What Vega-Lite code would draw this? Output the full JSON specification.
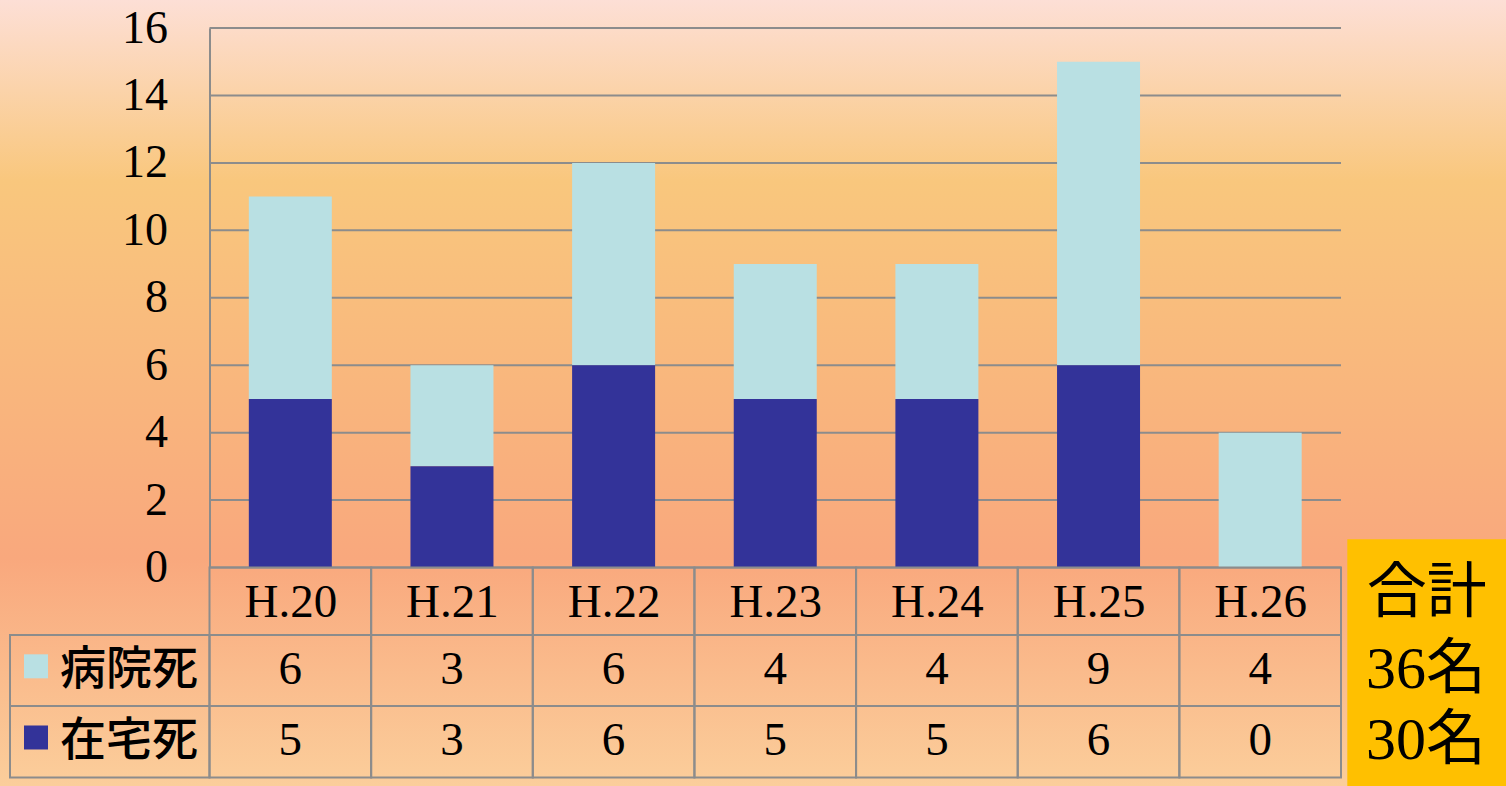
{
  "$schema": "https://vega.github.io/schema/vega-lite/v6.json",
  "width": 1131.5,
  "height": 539.5,
  "autosize": {"type": "none"},
  "padding": {"left": 209.5, "top": 28, "right": 165, "bottom": 218.5},
  "background": "#F9BE85",
  "config": {"view": {"stroke": null}},
  "datasets": {
    "deaths": [
      {"year": 20, "type": "病院死", "count": 6},
      {"year": 20, "type": "在宅死", "count": 5},
      {"year": 21, "type": "病院死", "count": 3},
      {"year": 21, "type": "在宅死", "count": 3},
      {"year": 22, "type": "病院死", "count": 6},
      {"year": 22, "type": "在宅死", "count": 6},
      {"year": 23, "type": "病院死", "count": 4},
      {"year": 23, "type": "在宅死", "count": 5},
      {"year": 24, "type": "病院死", "count": 4},
      {"year": 24, "type": "在宅死", "count": 5},
      {"year": 25, "type": "病院死", "count": 9},
      {"year": 25, "type": "在宅死", "count": 6},
      {"year": 26, "type": "病院死", "count": 4},
      {"year": 26, "type": "在宅死", "count": 0}
    ],
    "ticks": [
      {"tick": 0}, {"tick": 2}, {"tick": 4}, {"tick": 6}, {"tick": 8},
      {"tick": 10}, {"tick": 12}, {"tick": 14}, {"tick": 16}
    ]
  },
  "data": {"name": "deaths"},
  "layer": [
    {
      "mark": {"type": "bar", "width": 83, "opacity": 0},
      "encoding": {
        "x": {
          "field": "year", "type": "quantitative",
          "scale": {"domain": [19.5, 26.5], "nice": false, "zero": false, "padding": 0},
          "axis": {
            "values": [20, 21, 22, 23, 24, 25, 26],
            "labelExpr": "'H.' + datum.value",
            "title": null, "grid": false, "domain": false, "ticks": false, "tickSize": 0,
            "labelFont": "Liberation Serif", "labelFontSize": 47, "labelColor": "#000000",
            "labelPadding": 12, "labelFlush": false, "labelOverlap": false, "zindex": 1
          }
        },
        "y": {
          "field": "count", "type": "quantitative", "stack": "zero",
          "scale": {"domain": [0, 16], "nice": false, "zero": true, "padding": 0},
          "axis": {
            "values": [0, 2, 4, 6, 8, 10, 12, 14, 16],
            "title": null, "grid": false, "domain": true, "domainColor": "#8C8C8C", "domainWidth": 2,
            "ticks": false, "tickSize": 0,
            "labelFont": "Liberation Serif", "labelFontSize": 46, "labelColor": "#000000",
            "labelPadding": 42, "labelFlush": false, "labelOverlap": false, "zindex": 1
          }
        }
      }
    },
    {
      "data": {"values": [{}]},
      "mark": {
        "type": "rect",
        "fill": {
          "gradient": "linear", "x1": 0, "y1": 0, "x2": 0, "y2": 1,
          "stops": [
            {"offset": 0, "color": "#FDDFD6"},
            {"offset": 0.23, "color": "#F9C77D"},
            {"offset": 0.71, "color": "#F9A87D"},
            {"offset": 1, "color": "#FBCE9B"}
          ]
        }
      },
      "encoding": {
        "x": {"datum": 18.20393, "type": "quantitative"},
        "x2": {"datum": 27.5208},
        "y": {"datum": 16.8304, "type": "quantitative"},
        "y2": {"datum": -6.48}
      }
    },
    {
      "data": {"name": "ticks"},
      "mark": {"type": "rule", "stroke": "#8C8C8C", "strokeWidth": 2},
      "encoding": {
        "y": {"field": "tick", "type": "quantitative"},
        "x": {"datum": 19.5, "type": "quantitative"},
        "x2": {"datum": 26.5}
      }
    },
    {
      "mark": {"type": "bar", "width": 83},
      "encoding": {
        "x": {"field": "year", "type": "quantitative"},
        "y": {"field": "count", "type": "quantitative", "stack": "zero"},
        "color": {
          "field": "type", "type": "nominal",
          "scale": {"domain": ["病院死", "在宅死"], "range": ["#B9E0E3", "#333399"]},
          "legend": null
        },
        "order": {"field": "type", "sort": "ascending"}
      }
    },
    {
      "transform": [{"filter": "datum.type == '病院死'"}],
      "mark": {"type": "bar", "width": 161.64, "fill": "transparent", "stroke": "#8C8C8C", "strokeWidth": 2},
      "encoding": {
        "x": {"field": "year", "type": "quantitative"},
        "y": {"datum": 0, "type": "quantitative"},
        "y2": {"datum": -6.23}
      }
    },
    {
      "data": {"values": [{}]},
      "mark": {"type": "rect", "fill": "transparent", "stroke": "#8C8C8C", "strokeWidth": 2},
      "encoding": {
        "x": {"datum": 18.2658, "type": "quantitative"},
        "x2": {"datum": 19.5},
        "y": {"datum": -2.0019, "type": "quantitative"},
        "y2": {"datum": -6.23}
      }
    },
    {
      "data": {"values": [{}]},
      "mark": {"type": "rule", "stroke": "#8C8C8C", "strokeWidth": 2},
      "encoding": {
        "x": {"datum": 18.2658, "type": "quantitative"},
        "x2": {"datum": 26.5},
        "y": {"datum": -2.0019, "type": "quantitative"}
      }
    },
    {
      "data": {"values": [{}]},
      "mark": {"type": "rule", "stroke": "#8C8C8C", "strokeWidth": 2},
      "encoding": {
        "x": {"datum": 18.2658, "type": "quantitative"},
        "x2": {"datum": 26.5},
        "y": {"datum": -4.1075, "type": "quantitative"}
      }
    },
    {
      "data": {"values": [{}]},
      "mark": {"type": "rect", "fill": "#FFC000"},
      "encoding": {
        "x": {"datum": 26.539, "type": "quantitative"},
        "x2": {"datum": 27.5208},
        "y": {"datum": 0.8363, "type": "quantitative"},
        "y2": {"datum": -6.48}
      }
    },
    {
      "data": {"values": [{}]},
      "mark": {"type": "text", "text": "合計", "font": "Noto Sans CJK JP", "fontSize": 60, "align": "center", "baseline": "middle", "fill": "#000000"},
      "encoding": {
        "x": {"datum": 27.03, "type": "quantitative"},
        "y": {"datum": -0.78, "type": "quantitative"}
      }
    },
    {
      "transform": [{"filter": "datum.type == '病院死'"}],
      "encoding": {"y": {"datum": -3.049, "type": "quantitative"}},
      "layer": [
        {
          "mark": {"type": "text", "font": "Liberation Serif", "fontSize": 47, "align": "center", "baseline": "middle", "fill": "#000000"},
          "encoding": {
            "x": {"field": "year", "type": "quantitative"},
            "text": {"field": "count", "type": "quantitative"}
          }
        },
        {
          "transform": [{"filter": "datum.year == 20"}],
          "mark": {"type": "text", "font": "Noto Sans CJK JP", "fontSize": 46, "fontWeight": 500, "align": "left", "baseline": "middle", "fill": "#000000"},
          "encoding": {
            "x": {"datum": 18.5751, "type": "quantitative"},
            "text": {"field": "type", "type": "nominal"}
          }
        },
        {
          "transform": [{"filter": "datum.year == 20"}],
          "mark": {"type": "square", "size": 576, "opacity": 1, "yOffset": -4},
          "encoding": {
            "x": {"datum": 18.4267, "type": "quantitative"},
            "color": {"field": "type", "type": "nominal", "legend": null}
          }
        },
        {
          "transform": [
            {"aggregate": [{"op": "sum", "field": "count", "as": "total"}], "groupby": ["type"]},
            {"calculate": "datum.total + '名'", "as": "label"}
          ],
          "mark": {"type": "text", "font": "Liberation Serif, Noto Sans CJK JP", "fontSize": 60, "align": "center", "baseline": "middle", "fill": "#000000"},
          "encoding": {
            "x": {"datum": 27.026, "type": "quantitative"},
            "text": {"field": "label", "type": "nominal"}
          }
        }
      ]
    },
    {
      "transform": [{"filter": "datum.type == '在宅死'"}],
      "encoding": {"y": {"datum": -5.16, "type": "quantitative"}},
      "layer": [
        {
          "mark": {"type": "text", "font": "Liberation Serif", "fontSize": 47, "align": "center", "baseline": "middle", "fill": "#000000"},
          "encoding": {
            "x": {"field": "year", "type": "quantitative"},
            "text": {"field": "count", "type": "quantitative"}
          }
        },
        {
          "transform": [{"filter": "datum.year == 20"}],
          "mark": {"type": "text", "font": "Noto Sans CJK JP", "fontSize": 46, "fontWeight": 500, "align": "left", "baseline": "middle", "fill": "#000000"},
          "encoding": {
            "x": {"datum": 18.5751, "type": "quantitative"},
            "text": {"field": "type", "type": "nominal"}
          }
        },
        {
          "transform": [{"filter": "datum.year == 20"}],
          "mark": {"type": "square", "size": 576, "opacity": 1, "yOffset": -4},
          "encoding": {
            "x": {"datum": 18.4267, "type": "quantitative"},
            "color": {"field": "type", "type": "nominal", "legend": null}
          }
        },
        {
          "transform": [
            {"aggregate": [{"op": "sum", "field": "count", "as": "total"}], "groupby": ["type"]},
            {"calculate": "datum.total + '名'", "as": "label"}
          ],
          "mark": {"type": "text", "font": "Liberation Serif, Noto Sans CJK JP", "fontSize": 60, "align": "center", "baseline": "middle", "fill": "#000000"},
          "encoding": {
            "x": {"datum": 27.026, "type": "quantitative"},
            "text": {"field": "label", "type": "nominal"}
          }
        }
      ]
    }
  ]
}
